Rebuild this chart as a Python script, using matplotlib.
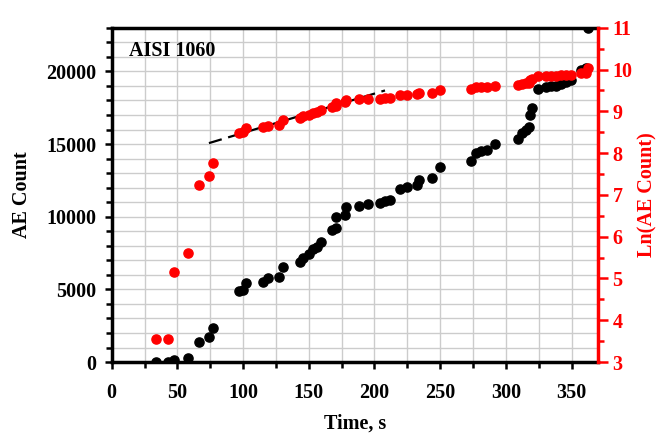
import numpy as np
import matplotlib.pyplot as plt
from matplotlib.ticker import MultipleLocator

# acoustic emission data
time_s = [34, 43, 47.5, 58, 66.3, 74.4, 77, 96.9, 100, 102.3,
          115.3, 119.2, 127.4, 130.1, 143.3, 145.9, 150, 153, 156.6, 159.3,
          167.6, 171, 171, 177.5, 178.2, 188.5, 194.8, 204.5, 208.3, 211.6,
          219.8, 224.9, 232.6, 233.8, 243.5, 249.9, 273.3, 277.1, 281, 285.5,
          291.7, 309, 312, 315.3, 317.9, 318.7, 319.8, 324.3, 330.6, 334.5,
          338.3, 342.2, 346, 349.8, 357.4, 361.2, 362.5]
ae_count = [35, 35, 175, 276, 1400, 1720, 2350, 4870, 4980, 5430,
            5540, 5750, 5860, 6530, 6870, 7180, 7450, 7750, 7950, 8290,
            9100, 9240, 10000, 10120, 10650, 10770, 10870, 10940, 11050, 11170,
            11910, 12020, 12210, 12550, 12670, 13430, 13810, 14390, 14550, 14600,
            15020, 15380, 15770, 16000, 16160, 16990, 17500, 18760, 18920, 18990,
            19000, 19150, 19290, 19380, 20070, 20210, 23000]
ln_count = np.log(ae_count)

# dashed trend line on the ln axis
trend_t = [74, 208]
trend_ln = [8.24, 9.5]

plt.rcParams['font.family'] = ['Liberation Serif', 'DejaVu Serif']
plt.rcParams['font.weight'] = 'bold'
plt.rcParams['font.size'] = 14.5

fig = plt.figure(figsize=(6.65, 4.41), dpi=100)
ax = fig.add_axes([0.168, 0.179, 0.731, 0.758])

ax.plot(time_s, ae_count, 'o', color='k', markersize=6.6, zorder=3)
ax.set_xlim(0, 370)
ax.set_ylim(0, 23000)
ax.xaxis.set_major_locator(MultipleLocator(50))
ax.xaxis.set_minor_locator(MultipleLocator(25))
ax.yaxis.set_major_locator(MultipleLocator(5000))
ax.yaxis.set_minor_locator(MultipleLocator(1000))
ax.grid(which='both', color='#cccccc', linewidth=1.0)
ax.set_axisbelow(True)
ax.tick_params(which='both', direction='out', width=1.8, colors='k')
ax.tick_params(which='major', length=5)
ax.tick_params(which='minor', length=4)
ax.tick_params(axis='x', which='major', pad=10)
ax.tick_params(axis='y', which='major', pad=6)
for s in ['left', 'bottom', 'top']:
    ax.spines[s].set_linewidth(2.5)
ax.set_xlabel('Time, s', fontweight='bold', labelpad=8)
ax.set_ylabel('AE Count', fontweight='bold', labelpad=10)
ax.text(0.035, 0.915, 'AISI 1060', transform=ax.transAxes,
        fontsize=14.5, fontweight='bold')

ax2 = ax.twinx()
ax2.plot(time_s, ln_count, 'o', color='#ff0000', markersize=6.6, zorder=3)
ax2.plot(trend_t, trend_ln, color='k', linewidth=1.6, dashes=(6, 3))
ax2.set_ylim(3, 11)
ax2.yaxis.set_major_locator(MultipleLocator(1))
ax2.yaxis.set_minor_locator(MultipleLocator(0.5))
ax2.tick_params(which='both', direction='out', width=1.8, colors='#ff0000')
ax2.tick_params(which='major', length=7)
ax2.tick_params(which='minor', length=4)
ax2.spines['right'].set_color('#ff0000')
ax2.spines['right'].set_linewidth(2.5)
for s in ['left', 'bottom', 'top']:
    ax2.spines[s].set_visible(False)
ax2.set_ylabel('Ln(AE Count)', color='#ff0000', fontweight='bold', labelpad=4)

fig.savefig('out.png', dpi=100)
